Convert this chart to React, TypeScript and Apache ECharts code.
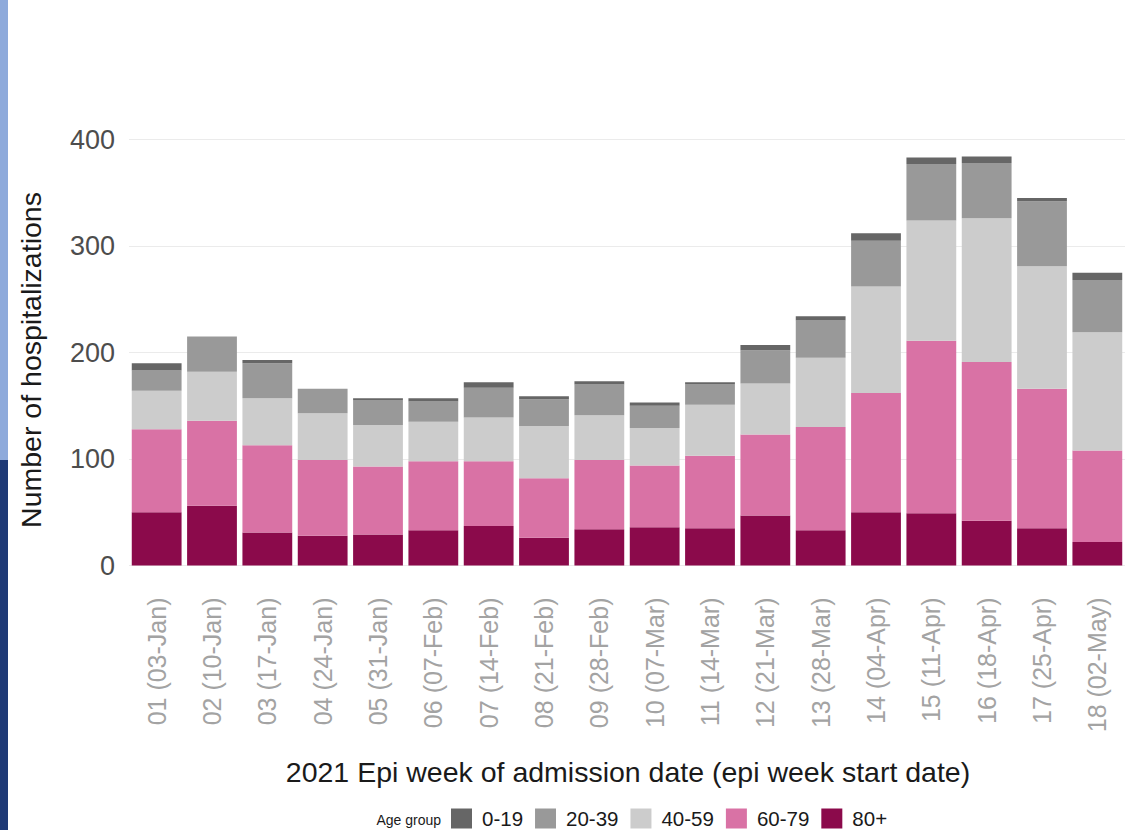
import React, { useEffect, useRef } from "react";
import * as echarts from "echarts";

const weeks = [
  "01 (03-Jan)", "02 (10-Jan)", "03 (17-Jan)", "04 (24-Jan)", "05 (31-Jan)", "06 (07-Feb)",
  "07 (14-Feb)", "08 (21-Feb)", "09 (28-Feb)", "10 (07-Mar)", "11 (14-Mar)", "12 (21-Mar)",
  "13 (28-Mar)", "14 (04-Apr)", "15 (11-Apr)", "16 (18-Apr)", "17 (25-Apr)", "18 (02-May)",
];

const age80plus = [50, 56, 31, 28, 29, 33, 37, 26, 34, 36, 35, 47, 33, 50, 49, 42, 35, 22];
const age60to79 = [78, 80, 82, 71, 64, 65, 61, 56, 65, 58, 68, 76, 97, 112, 162, 149, 131, 86];
const age40to59 = [36, 46, 44, 44, 39, 37, 41, 49, 42, 35, 48, 48, 65, 100, 113, 135, 115, 111];
const age20to39 = [19, 33, 33, 23, 23, 19, 28, 25, 29, 21, 19, 31, 35, 43, 53, 52, 61, 49];
const age0to19 = [7, 0, 3, 0, 2, 3, 5, 3, 3, 3, 2, 5, 4, 7, 6, 6, 3, 7];

const legendOrder = ["0-19", "20-39", "40-59", "60-79", "80+"];
const yTicks = [0, 100, 200, 300, 400];

const FONT = "'Liberation Sans', Arial, sans-serif";

export default function App() {
  const ref = useRef<HTMLDivElement>(null);

  useEffect(() => {
    if (!ref.current) return;
    const chart = echarts.init(ref.current, null, { renderer: "svg" });
    const mk = (name: string, data: number[], color: string) => ({
      name,
      type: "bar",
      stack: "total",
      data,
      barCategoryGap: "10%",
      itemStyle: { color },
      emphasis: { disabled: true },
    });
    chart.setOption({
      animation: false,
      backgroundColor: "#ffffff",
      textStyle: { fontFamily: FONT },
      grid: { left: 129, right: -1, top: 139.5, bottom: 264.5, containLabel: false },
      xAxis: {
        type: "category",
        data: weeks,
        axisLine: { show: false },
        axisTick: { show: false },
        splitLine: { show: false },
        axisLabel: {
          rotate: 90,
          interval: 0,
          margin: 32,
          fontSize: 25,
          color: "#a3a3a3",
          fontFamily: FONT,
        },
      },
      yAxis: {
        type: "value",
        min: yTicks[0],
        max: yTicks[yTicks.length - 1],
        interval: 100,
        axisLine: { show: false },
        axisTick: { show: false },
        splitLine: { show: true, lineStyle: { color: "#ebebeb", width: 1.2 } },
        axisLabel: { margin: 14, fontSize: 27, color: "#4d4d4d", fontFamily: FONT },
      },
      legend: {
        data: legendOrder,
        left: 451,
        top: 808,
        itemWidth: 21,
        itemHeight: 20,
        itemGap: 12,
        icon: "rect",
        padding: 0,
        textStyle: { fontSize: 20.5, color: "#1a1a1a", fontFamily: FONT, padding: [0, 0, 0, 5] },
        selectedMode: false,
      },
      graphic: [
        { type: "rect", shape: { x: 0, y: 0, width: 8, height: 460 }, style: { fill: "#8eaadb" } },
        { type: "rect", shape: { x: 0, y: 460, width: 8, height: 370 }, style: { fill: "#1f3a76" } },
        {
          type: "text",
          x: 441,
          y: 820,
          style: {
            text: "Age group",
            fontSize: 14,
            fill: "#1a1a1a",
            fontFamily: FONT,
            textAlign: "right",
            textVerticalAlign: "middle",
          },
        },
        {
          type: "text",
          x: 628,
          y: 772,
          style: {
            text: "2021 Epi week of admission date (epi week start date)",
            fontSize: 28.5,
            fill: "#1a1a1a",
            fontFamily: FONT,
            textAlign: "center",
            textVerticalAlign: "middle",
          },
        },
        {
          type: "text",
          x: 31,
          y: 360,
          rotation: Math.PI / 2,
          style: {
            text: "Number of hospitalizations",
            fontSize: 28.5,
            fill: "#1a1a1a",
            fontFamily: FONT,
            textAlign: "center",
            textVerticalAlign: "middle",
          },
        },
      ],
      series: [
        mk("80+", age80plus, "#8b0a4b"),
        mk("60-79", age60to79, "#d972a5"),
        mk("40-59", age40to59, "#cccccc"),
        mk("20-39", age20to39, "#999999"),
        mk("0-19", age0to19, "#666666"),
      ],
    });
    return () => chart.dispose();
  }, []);

  return (
    <div
      ref={ref}
      style={{ position: "absolute", left: 0, top: 0, width: 1125, height: 830 }}
    />
  );
}
